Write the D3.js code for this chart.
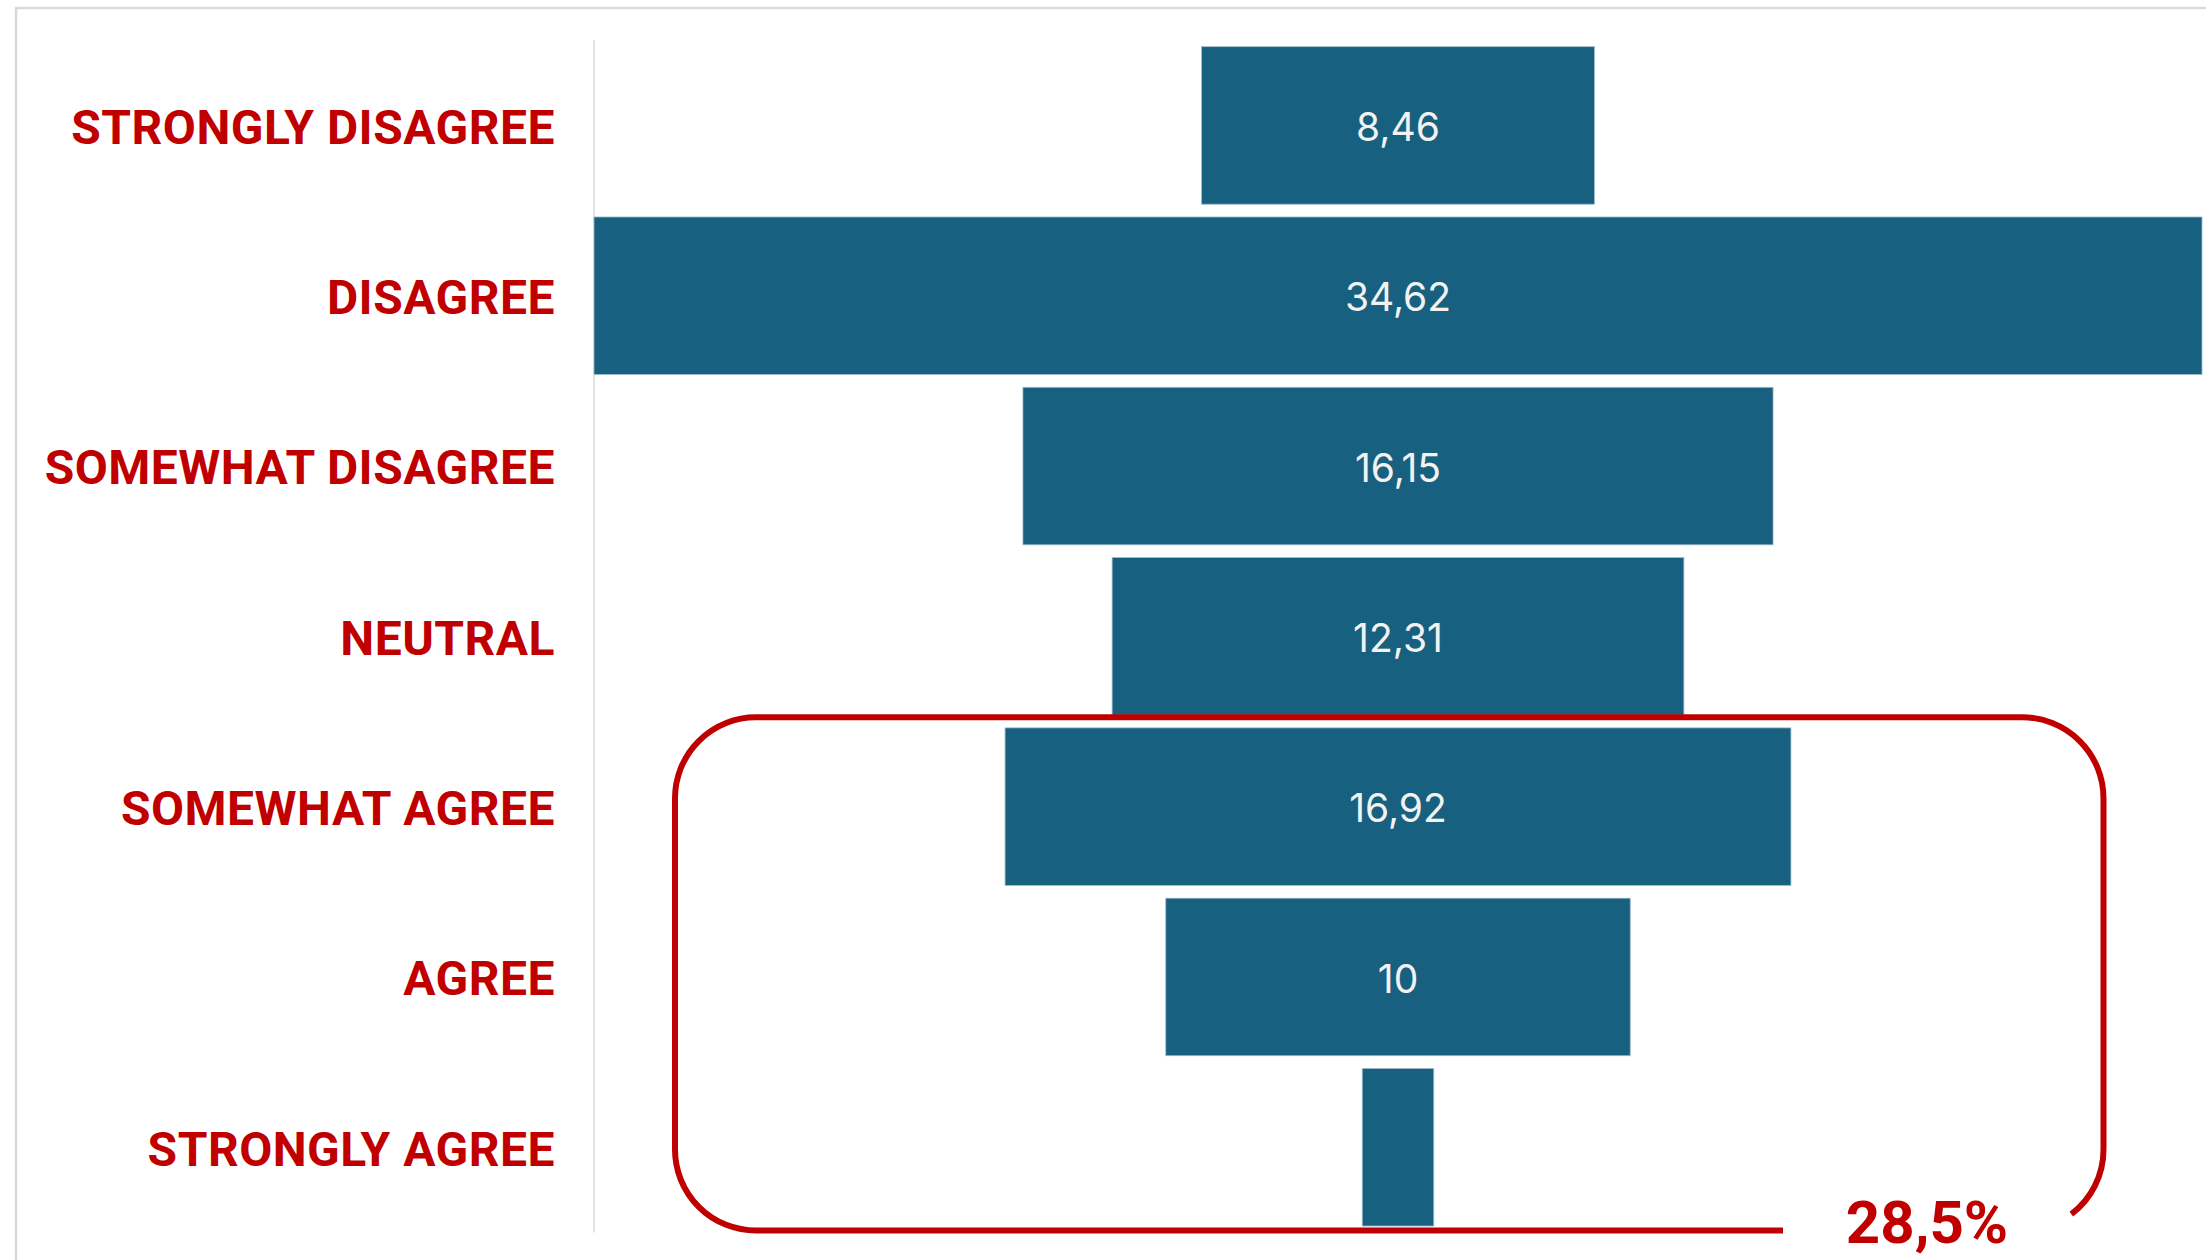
<!DOCTYPE html>
<html>
<head>
<meta charset="utf-8">
<script src="https://cdn.jsdelivr.net/npm/d3@7"></script>
<style>
  html, body { margin: 0; padding: 0; background: #ffffff; }
  svg { display: block; }
</style>
</head>
<body>
<svg id="chart" width="2206" height="1260"></svg>
<script>
// Likert response categories, top to bottom
const categories = [
  "STRONGLY DISAGREE",
  "DISAGREE",
  "SOMEWHAT DISAGREE",
  "NEUTRAL",
  "SOMEWHAT AGREE",
  "AGREE",
  "STRONGLY AGREE"
];
// Share of respondents (%) per category
const values = [8.46, 34.62, 16.15, 12.31, 16.92, 10, 1.54];
// Categories grouped by the highlight box
const highlighted = ["SOMEWHAT AGREE", "AGREE", "STRONGLY AGREE"];

const W = 2206, H = 1260;
const svg = d3.select("#chart");
const RED = "#c00000";
const BAR = "#17607f";
const GRID = "#d9d9d9";

const fmt = v => String(+v.toFixed(2)).replace(".", ",");

// Outer frame
svg.append("rect")
  .attr("x", 16).attr("y", 8)
  .attr("width", W + 20).attr("height", H + 20)
  .attr("fill", "none").attr("stroke", GRID).attr("stroke-width", 2.5);

// Scales: centred funnel bars
const maxV = d3.max(values);
const x = d3.scaleLinear().domain([-maxV / 2, maxV / 2]).range([594, 2202]);
const y = d3.scaleBand().domain(categories).range([40.3, 1232.4])
  .paddingInner(0.075).paddingOuter(0.0375);

const rows = categories.map((c, i) => ({ cat: c, v: values[i] }));

// Category axis
const axis = d3.axisLeft(y).tickSize(0).tickPadding(39);
const gAxis = svg.append("g").attr("transform", `translate(${x.range()[0]},0)`).call(axis);
gAxis.select(".domain").attr("stroke", GRID).attr("stroke-width", 1.5)
  .attr("d", `M0,${y.range()[0]}V${y.range()[1]}`);
gAxis.selectAll(".tick text")
  .attr("fill", RED)
  .attr("font-family", "Roboto, 'Liberation Sans', sans-serif")
  .attr("font-weight", 700)
  .attr("font-size", 48)
  .attr("letter-spacing", 0.5)
  .attr("dy", "0.38em");

// Bars
svg.append("g").selectAll("rect").data(rows).join("rect")
  .attr("x", d => x(-d.v / 2))
  .attr("width", d => x(d.v / 2) - x(-d.v / 2))
  .attr("y", d => y(d.cat))
  .attr("height", y.bandwidth())
  .attr("fill", BAR)
  .attr("stroke", "#9fbccc").attr("stroke-width", 0.8);

// Value labels (only where they fit inside the bar)
const labels = svg.append("g").selectAll("text").data(rows).join("text")
  .attr("x", x(0))
  .attr("y", d => y(d.cat) + y.bandwidth() / 2)
  .attr("dy", "0.4em")
  .attr("text-anchor", "middle")
  .attr("fill", "#f2f2f2")
  .attr("font-family", "Inter, 'Open Sans', sans-serif")
  .attr("font-size", 39)
  .text(d => fmt(d.v));
labels.each(function(d) {
  const bw = x(d.v / 2) - x(-d.v / 2);
  if (this.getComputedTextLength() > bw - 8) d3.select(this).remove();
});

// Highlight box around the agreeing responses, open at the bottom right
const bx0 = 675, bx1 = 2103.5, by0 = 717.3, by1 = 1230.5, r = 81;
const gapStart = 1783;
const endAngle = Math.atan2(65.5, 49.5);
const p = d3.path();
p.moveTo(gapStart, by1);
p.lineTo(bx0 + r, by1);
p.arc(bx0 + r, by1 - r, r, Math.PI / 2, Math.PI, false);
p.lineTo(bx0, by0 + r);
p.arc(bx0 + r, by0 + r, r, Math.PI, 1.5 * Math.PI, false);
p.lineTo(bx1 - r, by0);
p.arc(bx1 - r, by0 + r, r, 1.5 * Math.PI, 2 * Math.PI, false);
p.lineTo(bx1, by1 - r);
p.arc(bx1 - r, by1 - r, r, 0, endAngle, false);
svg.append("path")
  .attr("d", p.toString())
  .attr("fill", "none")
  .attr("stroke", RED)
  .attr("stroke-width", 6);

// Total share of the highlighted group
const agreeTotal = d3.sum(rows.filter(d => highlighted.includes(d.cat)), d => d.v);
svg.append("text")
  .attr("x", 1927).attr("y", 1243)
  .attr("text-anchor", "middle")
  .attr("fill", RED)
  .attr("font-family", "Roboto, 'Liberation Sans', sans-serif")
  .attr("font-weight", 700)
  .attr("font-size", 60)
  .text(agreeTotal.toFixed(1).replace(".", ",") + "%");
</script>
</body>
</html>
